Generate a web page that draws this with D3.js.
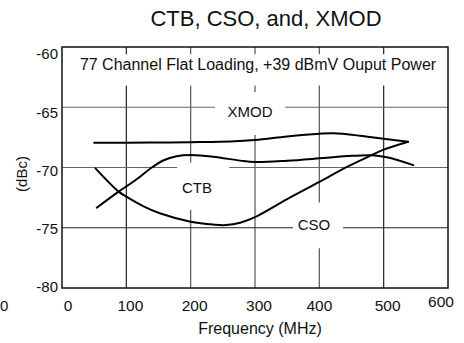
<!DOCTYPE html>
<html>
<head>
<meta charset="utf-8">
<script src="https://cdn.jsdelivr.net/npm/d3@7"></script>
<style>
  html, body { margin: 0; padding: 0; background: #fff; }
  svg { display: block; font-family: "Liberation Sans", Arial, Helvetica, sans-serif; }
</style>
</head>
<body>
<svg id="chart" width="464" height="343"></svg>
<script>
// ---- data ----
const xTicks = [0, 100, 200, 300, 400, 500, 600];
const yTicks = [-60, -65, -70, -75, -80];

const xmodFreq = [50, 100, 150, 200, 246, 300, 350, 400, 422, 463, 500, 538];
const xmodDbc  = [-67.94, -67.94, -67.93, -67.9, -67.87, -67.72, -67.42, -67.2, -67.16, -67.36, -67.62, -67.86];

const ctbFreq = [54, 88, 116, 137, 158, 178, 200, 235, 277, 300, 350, 400, 443, 482, 505, 546];
const ctbDbc  = [-73.34, -72.0, -70.98, -70.1, -69.4, -69.06, -68.96, -69.1, -69.43, -69.55, -69.44, -69.24, -69.05, -68.98, -69.15, -69.8];

const csoFreq = [52, 88, 100, 126, 152, 200, 235, 255, 277, 300, 350, 400, 443, 482, 500, 538];
const csoDbc  = [-70.07, -72.0, -72.42, -73.2, -73.8, -74.5, -74.74, -74.78, -74.58, -74.12, -72.62, -71.2, -69.95, -68.96, -68.52, -67.86];

const titleText = "CTB, CSO, and, XMOD";
const noteText = "77 Channel Flat Loading, +39 dBmV Ouput Power";
const xTitle = "Frequency (MHz)";
const yTitle = "(dBc)";

// ---- layout ----
const svg = d3.select("#chart");
const x = d3.scaleLinear().domain([0, 600]).range([62, 448]);
const y = d3.scaleLinear().domain([-80, -60]).range([288, 47]);
const FONT = 15;

// title
svg.append("text").attr("x", 266).attr("y", 26).attr("text-anchor", "middle")
  .attr("font-size", 22).attr("fill", "#111").text(titleText);

// gridlines
const gridGray = v => (v === 200 || v === 300 || v === 400) ? "#555" : "#222";
svg.append("g").selectAll("line").data(xTicks.slice(1, -1)).join("line")
  .attr("x1", d => x(d)).attr("x2", d => x(d)).attr("y1", y(-60)).attr("y2", y(-80))
  .attr("stroke", d => gridGray(d)).attr("stroke-width", 1.2);
svg.append("g").selectAll("line").data([-65, -70, -75]).join("line")
  .attr("x1", x(0)).attr("x2", x(600)).attr("y1", d => y(d)).attr("y2", d => y(d))
  .attr("stroke", d => d === -75 ? "#222" : "#666").attr("stroke-width", 1.2);

// white boxes behind annotations (in data units)
const boxes = [
  { f0: 1, f1: 599, d0: -60.6, d1: -63.2 },       // note
  { f0: 238, f1: 347, d0: -63.75, d1: -67.3 },    // XMOD
  { f0: 179, f1: 260, d0: -69.6, d1: -73.5 },     // CTB
  { f0: 359, f1: 437, d0: -72.9, d1: -76.7 }      // CSO
];
svg.append("g").selectAll("rect").data(boxes).join("rect")
  .attr("x", d => x(d.f0)).attr("width", d => x(d.f1) - x(d.f0))
  .attr("y", d => y(d.d0)).attr("height", d => y(d.d1) - y(d.d0))
  .attr("fill", "#fff");

// frame
svg.append("rect").attr("x", x(0)).attr("y", y(-60))
  .attr("width", x(600) - x(0)).attr("height", y(-80) - y(-60))
  .attr("fill", "none").attr("stroke", "#111").attr("stroke-width", 1.5);

// curves
const line = d3.line().x(d => x(d[0])).y(d => y(d[1])).curve(d3.curveCatmullRom.alpha(0.5));
const series = [
  d3.zip(xmodFreq, xmodDbc),
  d3.zip(ctbFreq, ctbDbc),
  d3.zip(csoFreq, csoDbc)
];
svg.append("g").selectAll("path").data(series).join("path")
  .attr("d", line).attr("fill", "none").attr("stroke", "#000")
  .attr("stroke-width", 2).attr("stroke-linejoin", "round").attr("stroke-linecap", "round");

// y tick labels
const yNudge = v => (v + 80) / 20 * 8 - 1;
svg.append("g").selectAll("text").data(yTicks).join("text")
  .attr("x", 58).attr("y", d => y(d) + yNudge(d)).attr("dy", "0.35em")
  .attr("text-anchor", "end").attr("font-size", FONT).attr("fill", "#111")
  .text(d => d);

// x tick labels
const xNudge = v => v === 600 ? -7 : (v === 400 ? 0 : (v === 0 ? 6 : 4));
svg.append("g").selectAll("text").data(xTicks).join("text")
  .attr("x", d => x(d) + xNudge(d)).attr("y", d => d === 600 ? 307 : 311)
  .attr("text-anchor", "middle").attr("font-size", 15.5).attr("fill", "#111")
  .text(d => d);

// small "0" at the left edge, as in the reference
svg.append("text").attr("x", 0).attr("y", 311).attr("text-anchor", "start")
  .attr("font-size", FONT).attr("fill", "#111").text("0");

// axis titles
svg.append("text").attr("x", 260).attr("y", 334).attr("text-anchor", "middle")
  .attr("font-size", 16).attr("fill", "#111").text(xTitle);
svg.append("text").attr("transform", "translate(27,174) rotate(-90)")
  .attr("text-anchor", "middle").attr("font-size", FONT).attr("fill", "#111").text(yTitle);

// annotations
svg.append("text").attr("x", 258).attr("y", 70).attr("text-anchor", "middle")
  .attr("font-size", 16).attr("fill", "#111").text(noteText);
svg.append("text").attr("x", 250).attr("y", 117).attr("text-anchor", "middle")
  .attr("font-size", FONT).attr("fill", "#111").text("XMOD");
svg.append("text").attr("x", 197).attr("y", 193).attr("text-anchor", "middle")
  .attr("font-size", FONT).attr("fill", "#111").text("CTB");
svg.append("text").attr("x", 314).attr("y", 230).attr("text-anchor", "middle")
  .attr("font-size", FONT).attr("fill", "#111").text("CSO");
</script>
</body>
</html>
